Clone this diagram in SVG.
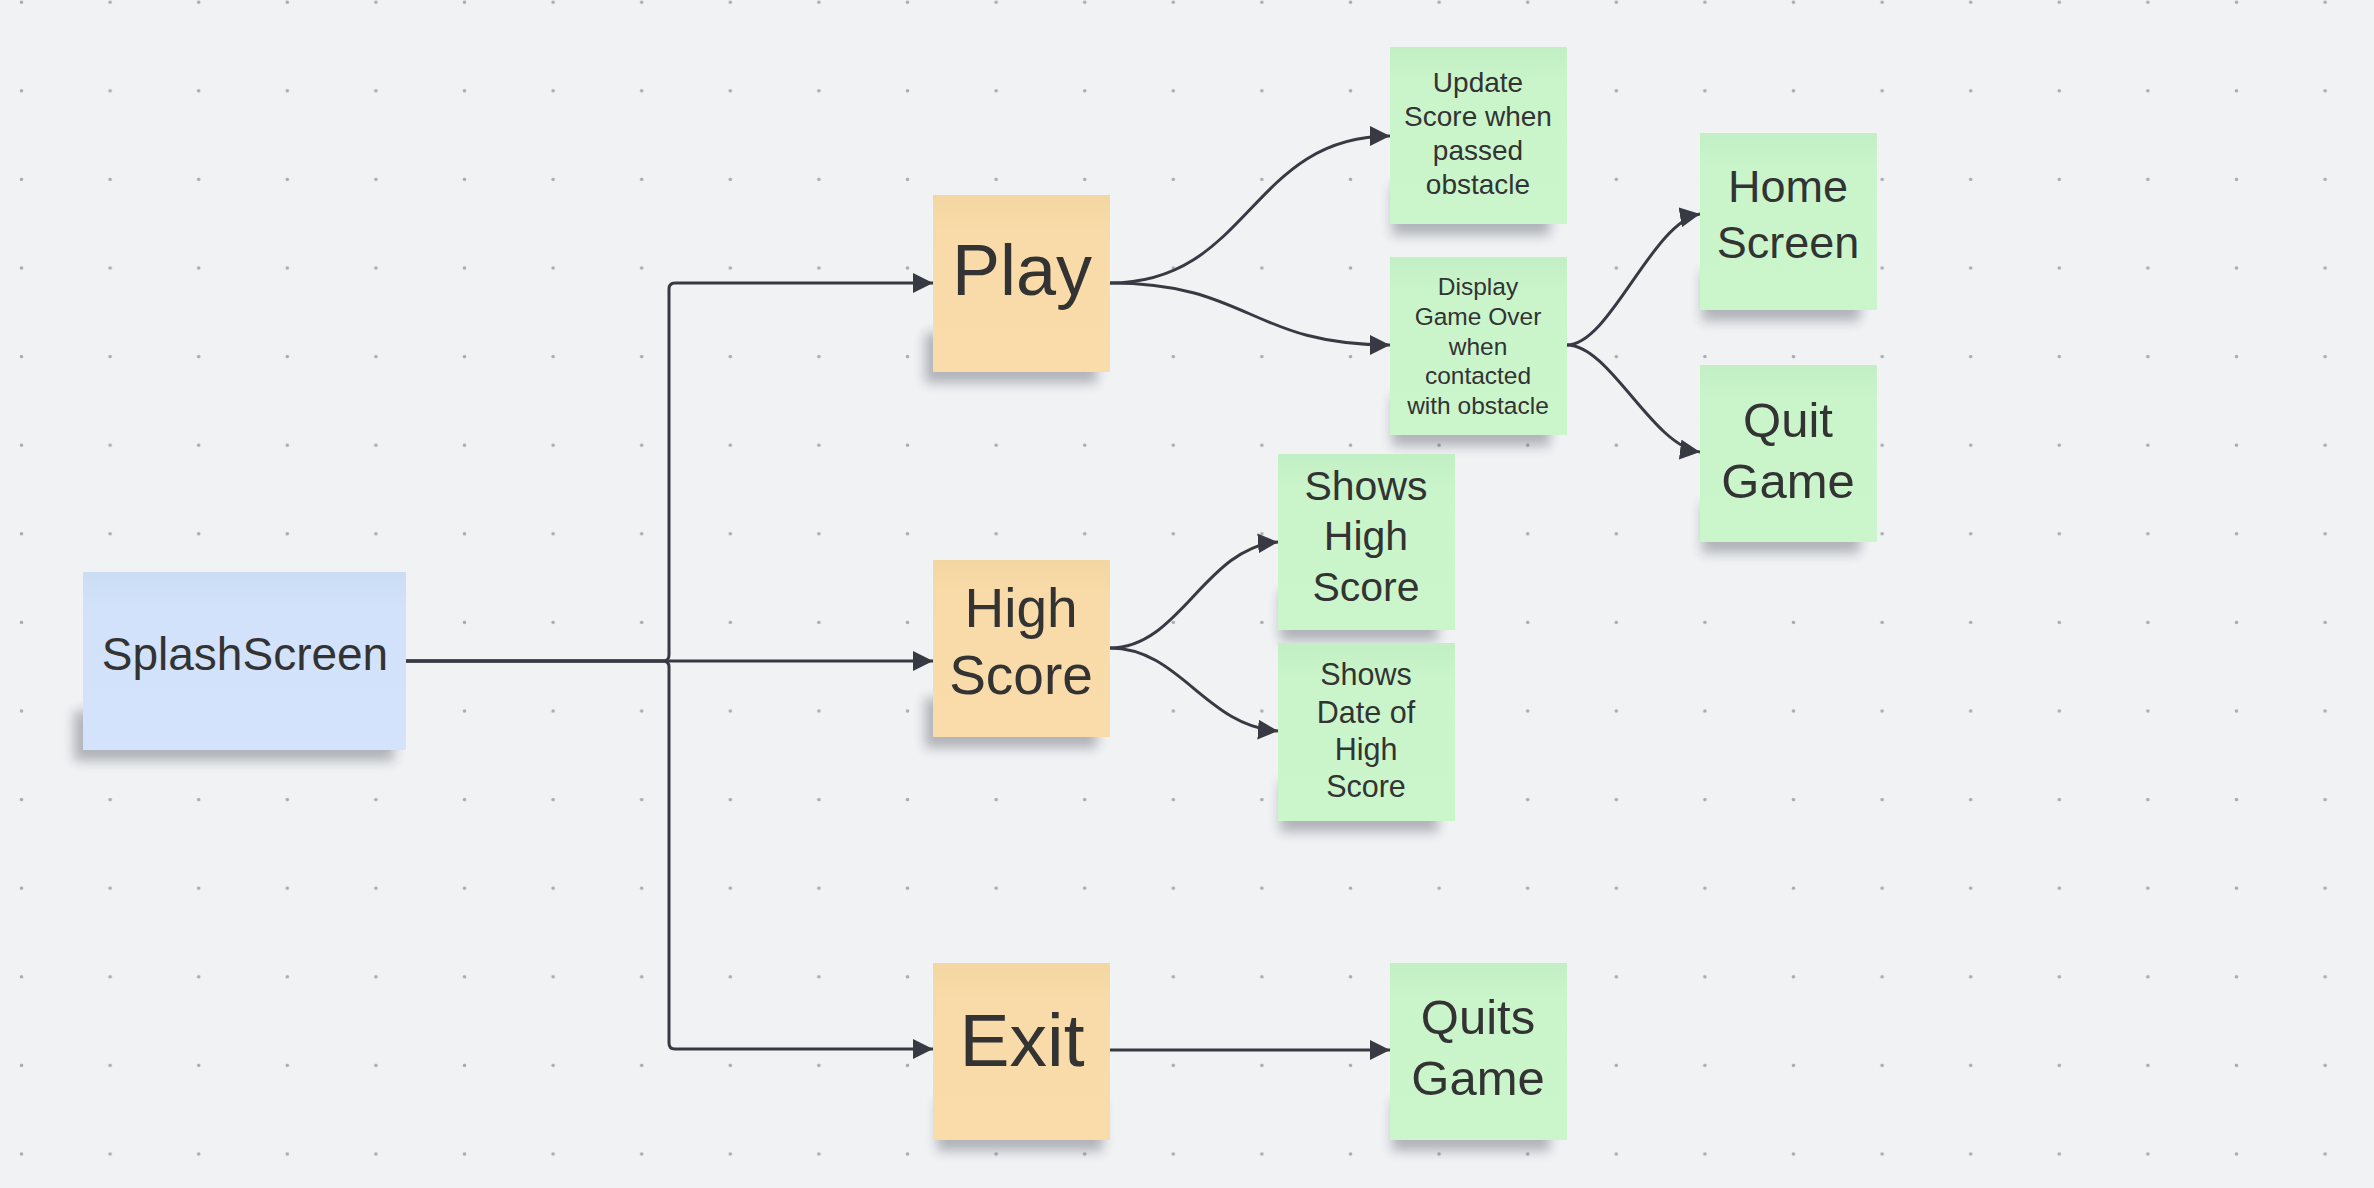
<svg xmlns="http://www.w3.org/2000/svg" width="2374" height="1188" viewBox="0 0 2374 1188">
<defs>
<style>
.t{font-family:"Liberation Sans",Arial,sans-serif;fill:#333333;text-anchor:middle}
.c{fill:none;stroke:#373a42;stroke-width:3}
.sh{fill:#1e2230;opacity:0.3;filter:url(#blur)}
</style>
<pattern id="dots" x="-22.8" y="-42.1" width="88.6" height="88.6" patternUnits="userSpaceOnUse">
<circle cx="44.3" cy="44.3" r="1.8" fill="#a9abb1"/>
</pattern>
<filter id="blur" x="-20%" y="-60%" width="140%" height="220%"><feGaussianBlur stdDeviation="6"/></filter>
<linearGradient id="gG" x1="0" y1="0" x2="0" y2="1"><stop offset="0" stop-color="#c3efc4"/><stop offset="0.2" stop-color="#caf5cb"/><stop offset="1" stop-color="#cbf6cc"/></linearGradient>
<linearGradient id="gO" x1="0" y1="0" x2="0" y2="1"><stop offset="0" stop-color="#f4d6a3"/><stop offset="0.2" stop-color="#f8dba8"/><stop offset="1" stop-color="#f9dca9"/></linearGradient>
<linearGradient id="gB" x1="0" y1="0" x2="0" y2="1"><stop offset="0" stop-color="#cbdcf5"/><stop offset="0.2" stop-color="#d1e2fa"/><stop offset="1" stop-color="#d2e3fb"/></linearGradient>
<marker id="ah" markerUnits="userSpaceOnUse" markerWidth="22" markerHeight="22" refX="20" refY="10" orient="auto">
<path d="M0,0 L20,10 L0,20 z" fill="#373a42"/>
</marker>
</defs>
<rect width="2374" height="1188" fill="#f1f2f4"/>
<rect width="2374" height="1188" fill="url(#dots)"/>

<g id="connectors">
<path class="c" d="M406,661 H663 Q669,661 669,655 V289 Q669,283 675,283 H933" marker-end="url(#ah)"/>
<path class="c" d="M406,661 H933" stroke-width="2.6" marker-end="url(#ah)"/>
<path class="c" d="M406,661 H663 Q669,661 669,667 V1043 Q669,1049 675,1049 H933" marker-end="url(#ah)"/>
<path class="c" d="M1110,283 C1250,283 1250,136 1390,136" marker-end="url(#ah)"/>
<path class="c" d="M1110,283 C1250,283 1250,345 1390,345" marker-end="url(#ah)"/>
<path class="c" d="M1567,345 C1610,345 1652,222 1700,214" marker-end="url(#ah)"/>
<path class="c" d="M1567,345 C1610,345 1652,446 1700,452" marker-end="url(#ah)"/>
<path class="c" d="M1110,648 C1180,648 1205,547 1278,542" marker-end="url(#ah)"/>
<path class="c" d="M1110,648 C1180,648 1205,726 1278,731" marker-end="url(#ah)"/>
<path class="c" d="M1110,1050 H1390" marker-end="url(#ah)"/>
</g>

<g id="splash">
<rect class="sh" x="74" y="711" width="320" height="50"/>
<rect x="83" y="572" width="323" height="178" fill="url(#gB)"/>
<text class="t" x="245" y="670" font-size="46">SplashScreen</text>
</g>
<g id="play">
<rect class="sh" x="925" y="333" width="172" height="50"/>
<rect x="933" y="195" width="177" height="177" fill="url(#gO)"/>
<text class="t" x="1022" y="295" font-size="72">Play</text>
</g>
<g id="highscore">
<rect class="sh" x="925" y="698" width="172" height="50"/>
<rect x="933" y="560" width="177" height="177" fill="url(#gO)"/>
<text class="t" x="1021" y="627" font-size="55">High</text>
<text class="t" x="1021" y="694" font-size="55">Score</text>
</g>
<g id="exit">
<rect class="sh" x="937" y="1101" width="166" height="50"/>
<rect x="933" y="963" width="177" height="177" fill="url(#gO)"/>
<text class="t" x="1022" y="1066" font-size="75">Exit</text>
</g>
<g id="update">
<rect class="sh" x="1392" y="185" width="158" height="50"/>
<rect x="1390" y="47" width="177" height="177" fill="url(#gG)"/>
<text class="t" x="1478" y="92" font-size="28">Update</text>
<text class="t" x="1478" y="126" font-size="28">Score when</text>
<text class="t" x="1478" y="160" font-size="28">passed</text>
<text class="t" x="1478" y="194" font-size="28">obstacle</text>
</g>
<g id="gameover">
<rect class="sh" x="1392" y="396" width="158" height="50"/>
<rect x="1390" y="257" width="177" height="178" fill="url(#gG)"/>
<text class="t" x="1478" y="295" font-size="24.5">Display</text>
<text class="t" x="1478" y="325" font-size="24.5">Game Over</text>
<text class="t" x="1478" y="355" font-size="24.5">when</text>
<text class="t" x="1478" y="384" font-size="24.5">contacted</text>
<text class="t" x="1478" y="414" font-size="24.5">with obstacle</text>
</g>
<g id="home">
<rect class="sh" x="1702" y="271" width="158" height="50"/>
<rect x="1700" y="133" width="177" height="177" fill="url(#gG)"/>
<text class="t" x="1788" y="202" font-size="45">Home</text>
<text class="t" x="1788" y="258" font-size="45">Screen</text>
</g>
<g id="quit">
<rect class="sh" x="1702" y="503" width="158" height="50"/>
<rect x="1700" y="365" width="177" height="177" fill="url(#gG)"/>
<text class="t" x="1788" y="437" font-size="49">Quit</text>
<text class="t" x="1788" y="498" font-size="49">Game</text>
</g>
<g id="showshigh">
<rect class="sh" x="1280" y="591" width="158" height="50"/>
<rect x="1278" y="454" width="177" height="176" fill="url(#gG)"/>
<text class="t" x="1366" y="500" font-size="41">Shows</text>
<text class="t" x="1366" y="550" font-size="41">High</text>
<text class="t" x="1366" y="601" font-size="41">Score</text>
</g>
<g id="showsdate">
<rect class="sh" x="1280" y="782" width="158" height="50"/>
<rect x="1278" y="643" width="177" height="178" fill="url(#gG)"/>
<text class="t" x="1366" y="685" font-size="30.5">Shows</text>
<text class="t" x="1366" y="723" font-size="30.5">Date of</text>
<text class="t" x="1366" y="760" font-size="30.5">High</text>
<text class="t" x="1366" y="797" font-size="30.5">Score</text>
</g>
<g id="quits">
<rect class="sh" x="1392" y="1101" width="158" height="50"/>
<rect x="1390" y="963" width="177" height="177" fill="url(#gG)"/>
<text class="t" x="1478" y="1034" font-size="49">Quits</text>
<text class="t" x="1478" y="1095" font-size="49">Game</text>
</g>
</svg>
